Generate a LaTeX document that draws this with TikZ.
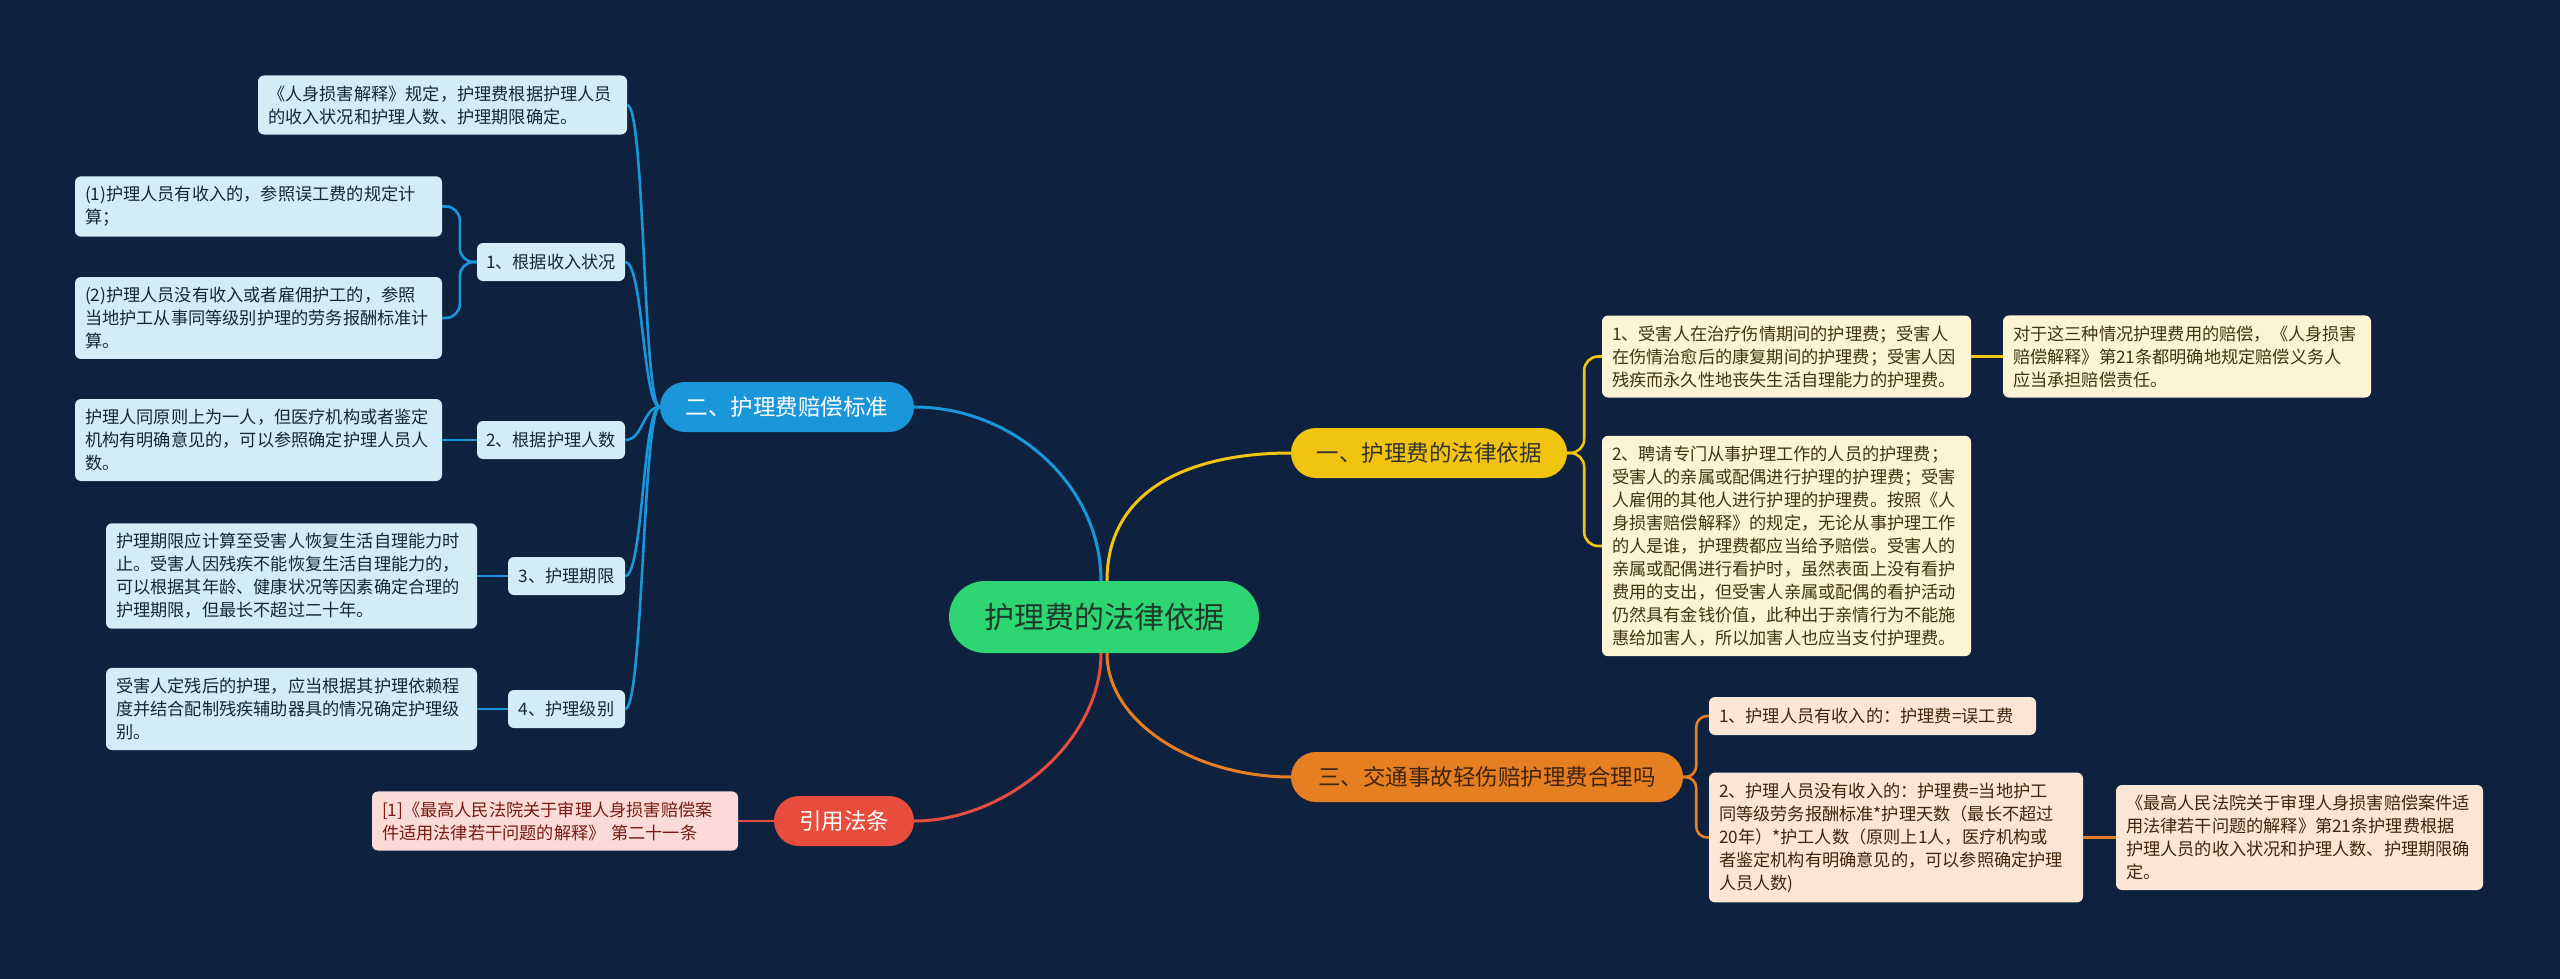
\documentclass[tikz,border=0pt]{standalone}
\usepackage{fontspec}
\setmainfont{Noto Sans CJK SC}
\definecolor{bg}{HTML}{0E2240}
\definecolor{cgreen}{HTML}{2ED573}
\definecolor{cyellow}{HTML}{F1C40F}
\definecolor{cblue}{HTML}{1A96DB}
\definecolor{corange}{HTML}{E67E22}
\definecolor{cred}{HTML}{E74C3C}
\definecolor{lblue}{HTML}{D2ECF8}
\definecolor{lyellow}{HTML}{FCF4D4}
\definecolor{lorange}{HTML}{FBE6D5}
\definecolor{lred}{HTML}{FADBD8}
\definecolor{tblue}{HTML}{15263A}
\definecolor{tyellow}{HTML}{3F3510}
\definecolor{torange}{HTML}{40250C}
\definecolor{tred}{HTML}{7A1B12}
\definecolor{tcenter}{HTML}{1E3A2A}
\newcommand\leaffont{\fontsize{17.2}{23}\selectfont}
\newcommand\subfont{\fontsize{17.2}{23}\selectfont}
\newcommand\brfont{\fontsize{22.5}{28}\selectfont}
\newcommand\cfont{\fontsize{30}{36}\selectfont}
\tikzset{
  leaf/.style={rounded corners=6pt, inner xsep=10pt, inner ysep=10pt, align=left, font=\leaffont},
  bleaf/.style={leaf, fill=lblue, text=tblue},
  yleaf/.style={leaf, fill=lyellow, text=tyellow},
  oleaf/.style={leaf, fill=lorange, text=torange},
  rleaf/.style={leaf, fill=lred, text=tred},
  subnode/.style={rounded corners=6pt, fill=lblue, text=tblue, font=\subfont, minimum height=38pt, inner sep=0pt},
  branch/.style={rounded corners=25pt, minimum height=50pt, inner sep=0pt, font=\brfont},
  mainline/.style={line width=3pt},
  subline/.style={line width=2.6pt, rounded corners=14pt},
}
\begin{document}
\begin{tikzpicture}[x=1pt,y=-1pt]
\fill[bg] (0,0) rectangle (2560,979);
\useasboundingbox (0,0) rectangle (2560,979);

% center
\node[fill=cgreen, text=tcenter, rounded corners=36pt, minimum width=310pt, minimum height=72pt, inner sep=0pt, font=\cfont] (c) at (1104,617) {护理费的法律依据};

% branches
\node[branch, fill=cyellow, text=black!80, minimum width=276pt] (b1) at (1429,453) {一、护理费的法律依据};
\node[branch, fill=cblue, text=white, minimum width=254pt] (b2) at (787,407) {二、护理费赔偿标准};
\node[branch, fill=corange, text=torange, minimum width=392pt] (b3) at (1487,777) {三、交通事故轻伤赔护理费合理吗};
\node[branch, fill=cred, text=white, minimum width=140pt] (b4) at (844,821) {引用法条};

% left side
\node[bleaf, text width=349pt] (tl) at (442.5,105) {《人身损害解释》规定，护理费根据护理人员\\的收入状况和护理人数、护理期限确定。};
\node[subnode, minimum width=148pt] (s1) at (551,262) {1、根据收入状况};
\node[bleaf, text width=347pt] (l1a) at (258.5,206.5) {(1)护理人员有收入的，参照误工费的规定计\\算；};
\node[bleaf, text width=347pt] (l1b) at (258.5,318) {(2)护理人员没有收入或者雇佣护工的，参照\\当地护工从事同等级别护理的劳务报酬标准计\\算。};
\node[subnode, minimum width=148pt] (s2) at (551,440) {2、根据护理人数};
\node[bleaf, text width=347pt] (l2) at (258.5,440) {护理人同原则上为一人，但医疗机构或者鉴定\\机构有明确意见的，可以参照确定护理人员人\\数。};
\node[subnode, minimum width=117pt] (s3) at (566.5,576) {3、护理期限};
\node[bleaf, text width=351pt] (l3) at (291.5,576) {护理期限应计算至受害人恢复生活自理能力时\\止。受害人因残疾不能恢复生活自理能力的，\\可以根据其年龄、健康状况等因素确定合理的\\护理期限，但最长不超过二十年。};
\node[subnode, minimum width=117pt] (s4) at (566.5,709) {4、护理级别};
\node[bleaf, text width=351pt] (l4) at (291.5,709) {受害人定残后的护理，应当根据其护理依赖程\\度并结合配制残疾辅助器具的情况确定护理级\\别。};
\node[rleaf, text width=346pt] (rl) at (555,821) {[1]《最高人民法院关于审理人身损害赔偿案\\件适用法律若干问题的解释》 第二十一条};

% right side
\node[yleaf, text width=349pt] (y1) at (1786.5,356.5) {1、受害人在治疗伤情期间的护理费；受害人\\在伤情治愈后的康复期间的护理费；受害人因\\残疾而永久性地丧失生活自理能力的护理费。};
\node[yleaf, text width=348pt] (y1b) at (2187,356.5) {对于这三种情况护理费用的赔偿，《人身损害\\赔偿解释》第21条都明确地规定赔偿义务人\\应当承担赔偿责任。};
\node[yleaf, text width=349pt] (y2) at (1786.5,546) {2、聘请专门从事护理工作的人员的护理费；\\受害人的亲属或配偶进行护理的护理费；受害\\人雇佣的其他人进行护理的护理费。按照《人\\身损害赔偿解释》的规定，无论从事护理工作\\的人是谁，护理费都应当给予赔偿。受害人的\\亲属或配偶进行看护时，虽然表面上没有看护\\费用的支出，但受害人亲属或配偶的看护活动\\仍然具有金钱价值，此种出于亲情行为不能施\\惠给加害人，所以加害人也应当支付护理费。};
\node[oleaf, text width=307pt, inner ysep=0pt, minimum height=38pt] (o1) at (1872.5,716) {1、护理人员有收入的：护理费=误工费};
\node[oleaf, text width=354pt] (o2) at (1896,837.5) {2、护理人员没有收入的：护理费=当地护工\\同等级劳务报酬标准*护理天数（最长不超过\\20年）*护工人数（原则上1人，医疗机构或\\者鉴定机构有明确意见的，可以参照确定护理\\人员人数)};
\node[oleaf, text width=347pt] (o3) at (2299.5,837.5) {《最高人民法院关于审理人身损害赔偿案件适\\用法律若干问题的解释》第21条护理费根据\\护理人员的收入状况和护理人数、护理期限确\\定。};

% center connectors
\draw[mainline, cblue] ([xshift=-3pt]c.north) .. controls +(0,-95) and +(100,0) .. (b2.east);
\draw[mainline, cyellow] ([xshift=3pt]c.north) .. controls +(0,-95) and +(-95,0) .. (b1.west);
\draw[mainline, corange] ([xshift=3pt]c.south) .. controls +(0,70) and +(-95,0) .. (b3.west);
\draw[mainline, cred] ([xshift=-3pt]c.south) .. controls +(0,90) and +(90,0) .. (b4.east);

% blue children
\foreach \n in {tl,s1,s2,s3,s4}
  \draw[line width=2.6pt, cblue] (b2.west) .. controls +(-17,0) and +(18,0) .. (\n.east);
\draw[subline, cblue] (s1.west) -- ++(-17,0) |- (l1a.east);
\draw[subline, cblue] (s1.west) -- ++(-17,0) |- (l1b.east);
\draw[line width=2.6pt, cblue] (s2.west) -- (l2.east);
\draw[line width=2.6pt, cblue] (s3.west) -- (l3.east);
\draw[line width=2.6pt, cblue] (s4.west) -- (l4.east);

% red
\draw[line width=2.6pt, cred] (b4.west) -- (rl.east);

% yellow
\draw[subline, cyellow] (b1.east) -- ++(17,0) |- (y1.west);
\draw[subline, cyellow] (b1.east) -- ++(17,0) |- (y2.west);
\draw[line width=2.6pt, cyellow] (y1.east) -- (y1b.west);

% orange
\draw[subline, rounded corners=11pt, corange] (b3.east) -- ++(13,0) |- (o1.west);
\draw[subline, rounded corners=11pt, corange] (b3.east) -- ++(13,0) |- (o2.west);
\draw[line width=2.6pt, corange] (o2.east) -- (o3.west);
\end{tikzpicture}
\end{document}
